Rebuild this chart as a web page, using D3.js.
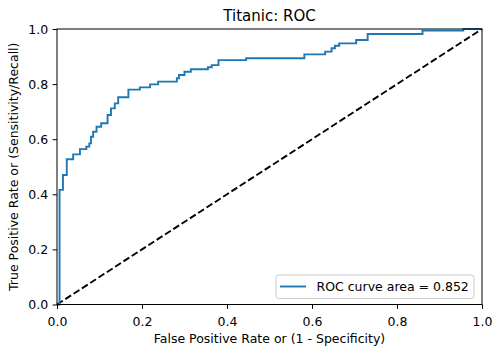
<!DOCTYPE html>
<html>
<head>
<meta charset="utf-8">
<script src="https://cdn.jsdelivr.net/npm/d3@7"></script>
<style>
  body { margin: 0; background: #fff; }
  svg { font-family: "DejaVu Sans", sans-serif; }
</style>
</head>
<body>
<svg id="drawing_region"></svg>
<script>
// ROC curve points
const fpr = [0, 0.006, 0.006, 0.014, 0.014, 0.023, 0.023, 0.038, 0.038, 0.054, 0.054,
    0.069, 0.069, 0.076, 0.076, 0.080, 0.080, 0.085, 0.085, 0.093, 0.093, 0.104, 0.104,
    0.119, 0.119, 0.127, 0.127, 0.136, 0.136, 0.144, 0.144, 0.168, 0.168, 0.195, 0.195,
    0.219, 0.219, 0.238, 0.238, 0.282, 0.282, 0.287, 0.287, 0.300, 0.300, 0.315, 0.315,
    0.355, 0.355, 0.364, 0.364, 0.380, 0.380, 0.445, 0.445, 0.582, 0.582, 0.631, 0.631,
    0.646, 0.646, 0.654, 0.654, 0.664, 0.664, 0.704, 0.704, 0.731, 0.731, 0.860, 0.860,
    0.956, 0.956, 1.0];
const tpr = [0, 0, 0.416, 0.416, 0.470, 0.470, 0.527, 0.527, 0.545, 0.545, 0.564,
    0.564, 0.573, 0.573, 0.585, 0.585, 0.609, 0.609, 0.627, 0.627, 0.645, 0.645, 0.658,
    0.658, 0.688, 0.688, 0.712, 0.712, 0.730, 0.730, 0.752, 0.752, 0.780, 0.780, 0.788,
    0.788, 0.799, 0.799, 0.809, 0.809, 0.821, 0.821, 0.833, 0.833, 0.845, 0.845, 0.854,
    0.854, 0.861, 0.861, 0.869, 0.869, 0.887, 0.887, 0.894, 0.894, 0.908, 0.908, 0.918,
    0.918, 0.930, 0.930, 0.939, 0.939, 0.948, 0.948, 0.960, 0.960, 0.982, 0.982, 0.994,
    0.994, 1.0, 1.0];
const diagonal = [0, 1];
const ticks = [0, 0.2, 0.4, 0.6, 0.8, 1.0];
const aucLabel = "ROC curve area = 0.852";

const config = {
    width: 500,
    height: 353,
    margin: { top: 29, right: 18, bottom: 48.5, left: 57 },
    font: 12.5,
    title: "Titanic: ROC",
    xlabel: "False Positive Rate or (1 - Specificity)",
    ylabel: "True Positive Rate or (Sensitivity/Recall)",
};

const svg = d3.select('#drawing_region')
    .attr('width', config.width)
    .attr('height', config.height);

const inner_width = config.width - config.margin.left - config.margin.right;
const inner_height = config.height - config.margin.top - config.margin.bottom;

const chart = svg.append('g')
    .attr('transform', `translate(${config.margin.left}, ${config.margin.top})`);

const xscale = d3.scaleLinear().domain([0, 1]).range([0, inner_width]);
const yscale = d3.scaleLinear().domain([0, 1]).range([inner_height, 0]);

// diagonal reference line
const line = d3.line().x(d => xscale(d[0])).y(d => yscale(d[1]));
chart.append('path')
    .datum(diagonal.map(v => [v, v]))
    .attr('d', line)
    .attr('fill', 'none')
    .attr('stroke', '#000')
    .attr('stroke-width', 1.9)
    .attr('stroke-dasharray', '6.9,3');

// roc curve
chart.append('path')
    .datum(fpr.map((f, i) => [f, tpr[i]]))
    .attr('d', line)
    .attr('fill', 'none')
    .attr('stroke', '#1f77b4')
    .attr('stroke-width', 1.9);

// axes
const xaxis = d3.axisBottom(xscale).tickValues(ticks).tickFormat(d3.format('.1f'))
    .tickSize(4.4).tickPadding(4.4);
const yaxis = d3.axisLeft(yscale).tickValues(ticks).tickFormat(d3.format('.1f'))
    .tickSize(4.4).tickPadding(4.4);

const xg = chart.append('g')
    .attr('transform', `translate(0, ${inner_height})`)
    .call(xaxis)
    .call(g => g.select('.domain').remove());
xg.selectAll('.tick text').attr('dy', null).attr('y', 21);

chart.append('g')
    .call(yaxis)
    .call(g => g.select('.domain').remove());

chart.selectAll('.tick text')
    .attr('font-size', config.font + 'px')
    .attr('font-family', '"DejaVu Sans", sans-serif')
    .attr('fill', '#000');
chart.selectAll('.tick line').attr('stroke', '#000').attr('stroke-width', 1);

// frame
chart.append('rect')
    .attr('width', inner_width)
    .attr('height', inner_height)
    .attr('fill', 'none')
    .attr('stroke', '#000')
    .attr('stroke-width', 1);

// legend
const legend = chart.append('g')
    .attr('transform', `translate(${inner_width - 206}, ${inner_height - 29.5})`);
legend.append('rect')
    .attr('width', 198)
    .attr('height', 23.5)
    .attr('rx', 2.5)
    .attr('fill', '#fff')
    .attr('fill-opacity', 0.8)
    .attr('stroke', '#cccccc')
    .attr('stroke-width', 1);
legend.append('line')
    .attr('x1', 4).attr('x2', 30)
    .attr('y1', 11.5).attr('y2', 11.5)
    .attr('stroke', '#1f77b4')
    .attr('stroke-width', 1.9);
legend.append('text')
    .attr('x', 40.5)
    .attr('y', 16)
    .attr('font-size', config.font + 'px')
    .text(aucLabel);

// labels
svg.append('text')
    .attr('x', config.margin.left + inner_width / 2)
    .attr('y', config.margin.top - 8.5)
    .attr('font-size', '15px')
    .attr('text-anchor', 'middle')
    .text(config.title);

svg.append('text')
    .attr('x', config.margin.left + inner_width / 2)
    .attr('y', config.margin.top + inner_height + 38.5)
    .attr('font-size', config.font + 'px')
    .attr('text-anchor', 'middle')
    .text(config.xlabel);

svg.append('text')
    .attr('transform', `translate(17.5, ${config.margin.top + inner_height / 2}) rotate(-90)`)
    .attr('font-size', config.font + 'px')
    .attr('text-anchor', 'middle')
    .text(config.ylabel);
</script>
</body>
</html>
